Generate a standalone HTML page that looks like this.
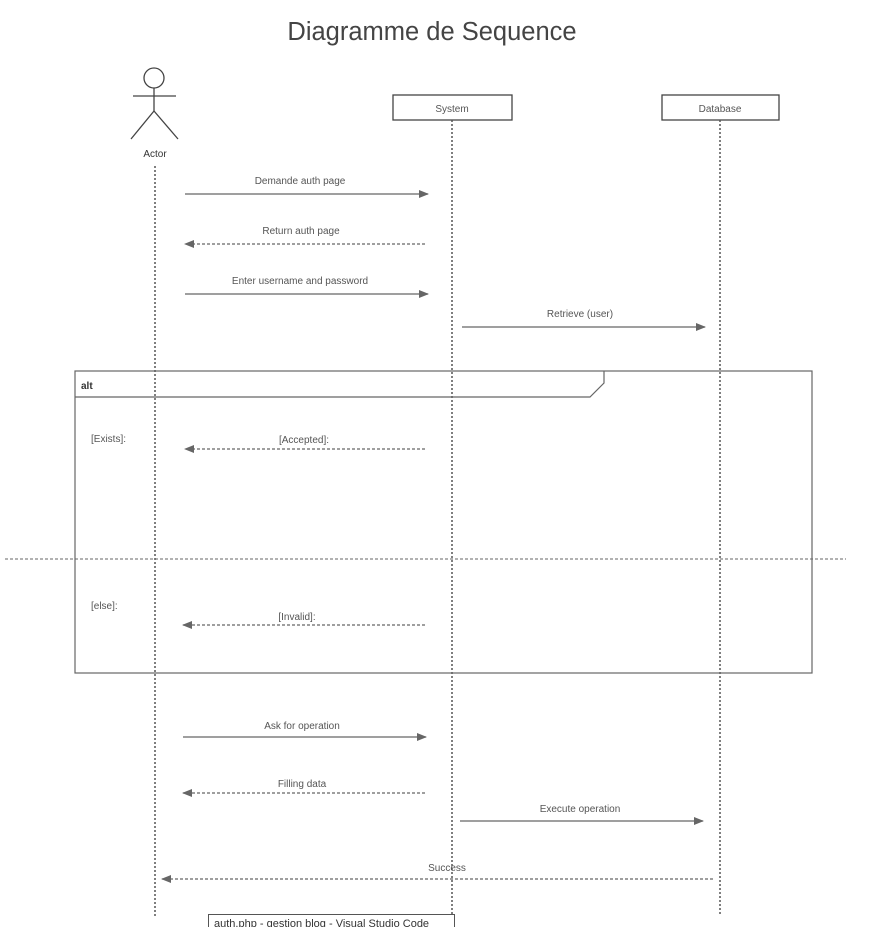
<!DOCTYPE html>
<html><head><meta charset="utf-8"><style>
html,body{margin:0;padding:0;background:#fff;width:872px;height:927px;overflow:hidden}
svg{display:block}
text{font-family:"Liberation Sans",sans-serif;fill:#555;font-size:10px}
</style></head><body>
<svg width="872" height="927" viewBox="0 0 872 927" xmlns="http://www.w3.org/2000/svg">
<defs>
<marker id="a" markerWidth="10" markerHeight="8" refX="9" refY="4" orient="auto" markerUnits="userSpaceOnUse"><path d="M0,0 L10,4 L0,8 Z" fill="#666"/></marker>
</defs>
<text x="432" y="40" text-anchor="middle" style="font-size:25.5px;fill:#444">Diagramme de Sequence</text>
<g stroke="#444" stroke-width="1.3" fill="none">
<circle cx="154" cy="78" r="10"/>
<line x1="133" y1="96" x2="176" y2="96"/>
<line x1="154" y1="88" x2="154" y2="111"/>
<line x1="154" y1="111" x2="131" y2="139"/>
<line x1="154" y1="111" x2="178" y2="139"/>
</g>
<text x="155" y="157" text-anchor="middle" style="fill:#333">Actor</text>
<rect x="393" y="95" width="119" height="25" fill="#fff" stroke="#444" stroke-width="1.3"/>
<text x="452" y="112" text-anchor="middle">System</text>
<rect x="662" y="95" width="117" height="25" fill="#fff" stroke="#444" stroke-width="1.3"/>
<text x="720" y="112" text-anchor="middle">Database</text>
<g stroke="#555" stroke-width="1.5" stroke-dasharray="2,2">
<line x1="155" y1="166" x2="155" y2="916"/>
<line x1="452" y1="120" x2="452" y2="916"/>
<line x1="720" y1="120" x2="720" y2="916"/>
</g>
<g stroke="#666" stroke-width="1.2" fill="none">
<rect x="75" y="371" width="737" height="302"/>
<path d="M75,397 L590,397 L604,383 L604,371"/>
</g>
<text x="81" y="389" style="fill:#333;font-weight:bold">alt</text>
<line x1="5" y1="559" x2="846" y2="559" stroke="#666" stroke-width="1" stroke-dasharray="3,2"/>
<text x="91" y="442">[Exists]:</text>
<text x="91" y="609">[else]:</text>
<g stroke="#666" stroke-width="1.3" fill="none">
<line x1="185" y1="194" x2="428" y2="194" marker-end="url(#a)"/>
<line x1="425" y1="244" x2="185" y2="244" stroke-dasharray="3,2" marker-end="url(#a)"/>
<line x1="185" y1="294" x2="428" y2="294" marker-end="url(#a)"/>
<line x1="462" y1="327" x2="705" y2="327" marker-end="url(#a)"/>
<line x1="425" y1="449" x2="185" y2="449" stroke-dasharray="3,2" marker-end="url(#a)"/>
<line x1="425" y1="625" x2="183" y2="625" stroke-dasharray="3,2" marker-end="url(#a)"/>
<line x1="183" y1="737" x2="426" y2="737" marker-end="url(#a)"/>
<line x1="425" y1="793" x2="183" y2="793" stroke-dasharray="3,2" marker-end="url(#a)"/>
<line x1="460" y1="821" x2="703" y2="821" marker-end="url(#a)"/>
<line x1="713" y1="879" x2="162" y2="879" stroke-dasharray="3,2" marker-end="url(#a)"/>
</g>
<g text-anchor="middle">
<text x="300" y="184">Demande auth page</text>
<text x="301" y="234">Return auth page</text>
<text x="300" y="284">Enter username and password</text>
<text x="580" y="317">Retrieve (user)</text>
<text x="304" y="443">[Accepted]:</text>
<text x="297" y="620">[Invalid]:</text>
<text x="302" y="729">Ask for operation</text>
<text x="302" y="787">Filling data</text>
<text x="580" y="812">Execute operation</text>
<text x="447" y="871">Success</text>
</g>
<rect x="208.5" y="914.5" width="246" height="16" fill="#fff" stroke="#555" stroke-width="1"/>
<text x="214" y="927" style="font-size:11px;fill:#333">auth.php - gestion blog - Visual Studio Code</text>
</svg>
</body></html>
